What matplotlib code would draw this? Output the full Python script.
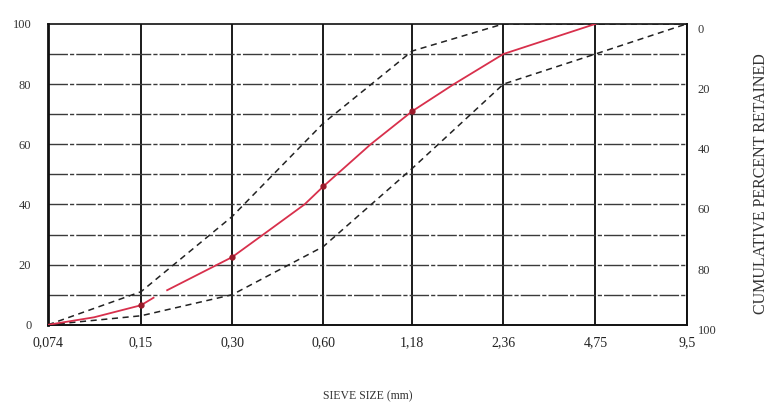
import matplotlib
matplotlib.use("Agg")
import matplotlib.pyplot as plt
import numpy as np

# Sieve sizes (mm) and tick labels
sieves = [0.074, 0.15, 0.30, 0.60, 1.18, 2.36, 4.75, 9.5]
sieve_labels = ["0,074", "0,15", "0,30", "0,60", "1,18", "2,36", "4,75", "9,5"]

# Grading limits (percent passing)
upper_limit = [0, 11, 36, 67, 91, 100, 100, 100]
lower_limit = [0, 3, 10, 26, 52, 80, 90, 100]

red_seg1_size = [0.074, 0.105, 0.15, 0.165]
red_seg1_pass = [0, 2.5, 6.5, 9]
red_seg2_size = [0.183, 0.30, 0.38, 0.52, 0.60, 0.86, 1.18, 1.62, 2.36, 4.75]
red_seg2_pass = [11.5, 22.5, 30, 40, 46, 60, 71, 80, 90, 100]

# Marked sample points on the red curve
mark_size = [0.15, 0.30, 0.60, 1.18]
mark_pass = [6.5, 22.5, 46, 71]

left_ticks = [0, 20, 40, 60, 80, 100]
right_ticks = [0, 20, 40, 60, 80, 100]

fig = plt.figure(figsize=(7.75, 4.05), dpi=100)
ax = fig.add_axes([0.062, 0.198, 0.824, 0.743])
serif = ["Liberation Serif", "DejaVu Serif"]

ax.set_xscale("log", base=2)
ax.set_xlim(sieves[0], sieves[-1])
ax.set_ylim(0, 100)

# grid
for s in sieves:
    ax.axvline(s, color="#1a1a1a", lw=1.4, zorder=1)
for v in range(10, 100, 10):
    ax.axhline(v, color="#3a3a3a", lw=1.0, ls=(0, (14, 1.5, 3, 1.5)), zorder=1)

# limit curves
ax.plot(sieves, upper_limit, color="#222222", lw=1.1, ls=(0, (4, 3)), zorder=2)
ax.plot(sieves, lower_limit, color="#222222", lw=1.1, ls=(0, (4, 3)), zorder=2)

# measured curve
ax.plot(red_seg1_size, red_seg1_pass, color="#d8304c", lw=1.3, zorder=3)
ax.plot(red_seg2_size, red_seg2_pass, color="#d8304c", lw=1.3, zorder=3)
ax.plot(mark_size, mark_pass, ls="none", marker="o", ms=3.5, color="#9a1a2a", zorder=4)

for side in ["left", "bottom", "top", "right"]:
    ax.spines[side].set_color("#111111")
ax.spines["left"].set_linewidth(2.0)
ax.spines["bottom"].set_linewidth(1.4)
ax.spines["top"].set_linewidth(1.2)
ax.spines["right"].set_linewidth(1.4)

ax.set_xticks(sieves)
ax.set_xticklabels(sieve_labels, family=serif, fontsize=10, color="#222222")
ax.xaxis.set_minor_locator(matplotlib.ticker.NullLocator())
ax.tick_params(axis="x", length=0, pad=8)

ax.set_yticks(left_ticks)
ax.set_yticklabels([str(t) for t in left_ticks], family=serif, fontsize=9, color="#333333")
ax.tick_params(axis="y", length=0, pad=12)

ax2 = ax.twinx()
ax2.set_ylim(100, 0)
ax2.set_yticks(right_ticks)
ax2.set_yticklabels([str(t) for t in right_ticks], family=serif, fontsize=9,
                    color="#333333", va="top")
ax2.tick_params(axis="y", length=0, pad=8)
for side in ["left", "bottom", "top", "right"]:
    ax2.spines[side].set_visible(False)
ax2.set_ylabel("CUMULATIVE PERCENT RETAINED", family=serif, fontsize=11.5,
               color="#333333")
ax2.yaxis.set_label_coords(1.104, 0.47)

ax.set_xlabel("SIEVE SIZE (mm)", family=serif, fontsize=8.5, color="#333333", labelpad=30)

fig.savefig("out.png", dpi=100, facecolor="white")
